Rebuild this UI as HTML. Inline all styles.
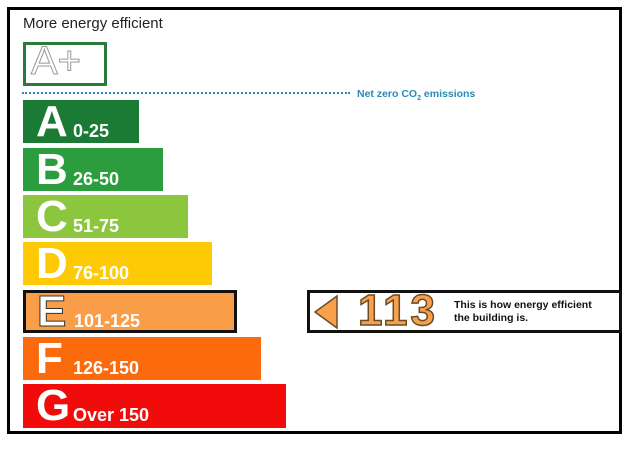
<!DOCTYPE html>
<html><head><meta charset="utf-8"><style>
body{margin:0;width:634px;height:468px;background:#fff;position:relative;font-family:"Liberation Sans",Arial,sans-serif;overflow:hidden}
.a{position:absolute}
.bar{position:absolute;left:23px;height:43px;color:#fff;font-weight:bold}
.bar .L{position:absolute;left:13px;top:-3px;font-size:44px;line-height:50px}
.bar .R{position:absolute;top:21px;font-size:18px;line-height:20px}
</style></head><body>
<div class="a" style="left:7px;top:7px;width:609px;height:421px;border:3px solid #000"></div>
<div class="a" style="left:23px;top:15px;font-size:15px;color:#222">More energy efficient</div>
<div class="a" style="left:23px;top:42px;width:78px;height:38px;border:3px solid #2a7a3a;"></div>
<div class="a" style="left:31px;top:38px;font-size:40px;color:#fff;-webkit-text-stroke:1px #999;line-height:46px">A+</div>
<div class="a" style="left:22px;top:92px;width:328px;border-top:2px dotted #2a8ab8"></div>
<div class="a" style="left:357px;top:88px;font-size:10.5px;font-weight:bold;color:#2a8ab8">Net zero CO<sub style="font-size:7px">2</sub> emissions</div>

<div class="bar" style="top:100px;width:116px;background:#1b7a33"><span class="L">A</span><span class="R" style="left:50px">0-25</span></div>
<div class="bar" style="top:148px;width:140px;background:#2c9d3f"><span class="L">B</span><span class="R" style="left:50px">26-50</span></div>
<div class="bar" style="top:195px;width:165px;background:#8cc63e"><span class="L">C</span><span class="R" style="left:50px">51-75</span></div>
<div class="bar" style="top:242px;width:189px;background:#fdca05"><span class="L">D</span><span class="R" style="left:50px">76-100</span></div>
<div class="bar" style="top:290px;width:208px;height:37px;background:#fa9d48;border:3px solid #111"><span class="L" style="left:11px;top:-6px;-webkit-text-stroke:1px #333">E</span><span class="R" style="left:48px;top:18px">101-125</span></div>
<div class="bar" style="top:337px;width:238px;background:#fb6a0c"><span class="L">F</span><span class="R" style="left:50px">126-150</span></div>
<div class="bar" style="top:384px;width:263px;height:44px;background:#f10b0b"><span class="L">G</span><span class="R" style="left:50px">Over 150</span></div>

<div class="a" style="left:307px;top:290px;width:309px;height:37px;border:3px solid #111;background:#fff"></div>
<svg class="a" style="left:313px;top:294px" width="26" height="36"><polygon points="24,2 2,18 24,34" fill="#f7a24b" stroke="#6b4a2a" stroke-width="1.5"/></svg>
<div class="a" style="left:358px;top:286px;font-size:44px;font-weight:bold;color:#f7a24b;-webkit-text-stroke:1.5px #6b4a2a;line-height:50px;letter-spacing:3px">113</div>
<div class="a" style="left:454px;top:299px;font-size:10.5px;font-weight:bold;color:#111;line-height:13px">This is how energy efficient<br>the building is.</div>
</body></html>
